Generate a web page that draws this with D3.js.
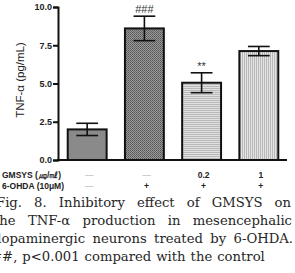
<!DOCTYPE html>
<meta charset="utf-8">
<style>
body { margin: 0; background: #fff; }
svg { display: block; }
.axis path, .axis line { stroke: #111; stroke-width: 2px; }
.axis text { font: bold 9px "Liberation Sans", Arial, sans-serif; fill: #222; }
.ylabel { font: 11.5px "Liberation Sans", Arial, sans-serif; fill: #222; }
.table text { font: bold 8.5px "Liberation Sans", Arial, sans-serif; fill: #222; }
.caption text { font: 13.2px "DejaVu Serif", "Liberation Serif", serif; fill: #262626; }
</style>
<svg width="295" height="273"></svg>
<script src="https://cdn.jsdelivr.net/npm/d3@7"></script>
<script>

// data
var groups = ["control", "6-OHDA", "GMSYS 0.2", "GMSYS 1"];
var means = [2.0, 8.6, 5.05, 7.12];
var errors = [0.4, 0.8, 0.65, 0.3];
var marks = ["", "###", "**", ""];
var gmsysRow = ["—", "—", "0.2", "1"];
var ohdaRow = ["—", "+", "+", "+"];
var yTicks = [0, 2.5, 5, 7.5, 10];
var captionLines = [
  "Fig. 8. Inhibitory effect of GMSYS on",
  "the TNF-α production in mesencephalic",
  "dopaminergic neurons treated by 6-OHDA.",
  "###, p<0.001 compared with the control"
];

var svg = d3.select("svg");

var x = d3.scaleBand()
    .domain(groups)
    .range([58, 288])
    .paddingInner(0.32)
    .paddingOuter(0.17);

var y = d3.scaleLinear()
    .domain([0, 10])
    .range([160, 7]);

// bar fills
var defs = svg.append("defs");

var checker = defs.append("pattern")
    .attr("id", "checker")
    .attr("width", 2).attr("height", 2)
    .attr("patternUnits", "userSpaceOnUse");
checker.append("rect").attr("width", 2).attr("height", 2).attr("fill", "#9a9a9a");
checker.append("rect").attr("width", 1).attr("height", 1).attr("fill", "#555");
checker.append("rect").attr("x", 1).attr("y", 1).attr("width", 1).attr("height", 1).attr("fill", "#666");

var hlines = defs.append("pattern")
    .attr("id", "hlines")
    .attr("width", 4).attr("height", 2)
    .attr("patternUnits", "userSpaceOnUse");
hlines.append("rect").attr("width", 4).attr("height", 2).attr("fill", "#e2e2e2");
hlines.append("rect").attr("width", 4).attr("height", 1).attr("fill", "#b8b8b8");

var vlines = defs.append("pattern")
    .attr("id", "vlines")
    .attr("width", 2).attr("height", 4)
    .attr("patternUnits", "userSpaceOnUse");
vlines.append("rect").attr("width", 2).attr("height", 4).attr("fill", "#e4e4e4");
vlines.append("rect").attr("width", 1).attr("height", 4).attr("fill", "#b8b8b8");

var fills = ["#8a8a8a", "url(#checker)", "url(#hlines)", "url(#vlines)"];

// bars
svg.append("g")
  .selectAll("rect")
  .data(groups)
  .enter().append("rect")
    .attr("x", function(d) { return x(d); })
    .attr("y", function(d, i) { return y(means[i]); })
    .attr("width", x.bandwidth())
    .attr("height", function(d, i) { return y(0) - y(means[i]); })
    .attr("fill", function(d, i) { return fills[i]; })
    .attr("stroke", "#111")
    .attr("stroke-width", 2);

// error bars
var capW = x.bandwidth() * 0.28;
var err = svg.append("g")
    .attr("stroke", "#111")
    .attr("stroke-width", 1.6);

groups.forEach(function(d, i) {
  var cx = x(d) + x.bandwidth() / 2;
  var hi = y(means[i] + errors[i]), lo = y(means[i] - errors[i]);
  err.append("line").attr("x1", cx).attr("x2", cx).attr("y1", hi).attr("y2", lo);
  err.append("line").attr("x1", cx - capW).attr("x2", cx + capW).attr("y1", hi).attr("y2", hi);
  err.append("line").attr("x1", cx - capW).attr("x2", cx + capW).attr("y1", lo).attr("y2", lo);
});

// significance marks
svg.append("g")
  .selectAll("text")
  .data(groups)
  .enter().append("text")
    .attr("x", function(d) { return x(d) + x.bandwidth() / 2; })
    .attr("y", function(d, i) { return y(means[i] + errors[i]) - 3; })
    .attr("text-anchor", "middle")
    .style("font", "11px 'Liberation Sans', Arial, sans-serif")
    .style("fill", "#333")
    .text(function(d, i) { return marks[i]; });

// axes
svg.append("g")
    .attr("class", "axis")
    .attr("transform", "translate(58,0)")
    .call(d3.axisLeft(y).tickValues(yTicks).tickFormat(d3.format(".1f")).tickSize(5).tickPadding(1));

svg.append("g")
    .attr("class", "axis")
    .attr("transform", "translate(0,160)")
    .call(d3.axisBottom(x).tickSize(0).tickFormat(""))
  .select(".domain")
    .attr("d", "M57,0H287");

svg.append("text")
    .attr("class", "ylabel")
    .attr("transform", "translate(24,80) rotate(-90)")
    .attr("text-anchor", "middle")
    .text("TNF-α (pg/mL)");

// treatment table under the bars
var table = svg.append("g").attr("class", "table");

table.append("text").attr("x", 2).attr("y", 178).text("GMSYS (㎍/㎖)");
table.append("text").attr("x", 2).attr("y", 189).text("6-OHDA (10μM)");

[gmsysRow, ohdaRow].forEach(function(row, r) {
  table.selectAll(null)
    .data(row)
    .enter().append("text")
      .attr("x", function(d, i) { return x(groups[i]) + x.bandwidth() / 2 + 2; })
      .attr("y", 178 + r * 11)
      .attr("text-anchor", "middle")
      .style("fill", function(d) { return d === "—" ? "#aaa" : "#222"; })
      .style("font-weight", function(d) { return d === "—" ? "normal" : "bold"; })
      .text(function(d) { return d; });
});

// justified caption, clipped at the page edges like the scan
// last line is not stretched, it just keeps a wide word gap
var lineStart = [-4, -6, -7, -20];
var lineEnd = [291, 292, 293, null];
var cap = svg.append("g").attr("class", "caption");

captionLines.forEach(function(line, li) {
  var words = line.split(" ");
  var baseline = 207 + li * 18;
  var nodes = words.map(function(w) {
    return cap.append("text").attr("y", baseline).text(w);
  });
  var widths = nodes.map(function(n) { return n.node().getComputedTextLength(); });
  var gap = lineEnd[li] == null ? 5
      : (lineEnd[li] - lineStart[li] - d3.sum(widths)) / (words.length - 1);
  var pos = lineStart[li];
  nodes.forEach(function(n, k) {
    n.attr("x", pos);
    pos += widths[k] + gap;
  });
});

</script>
